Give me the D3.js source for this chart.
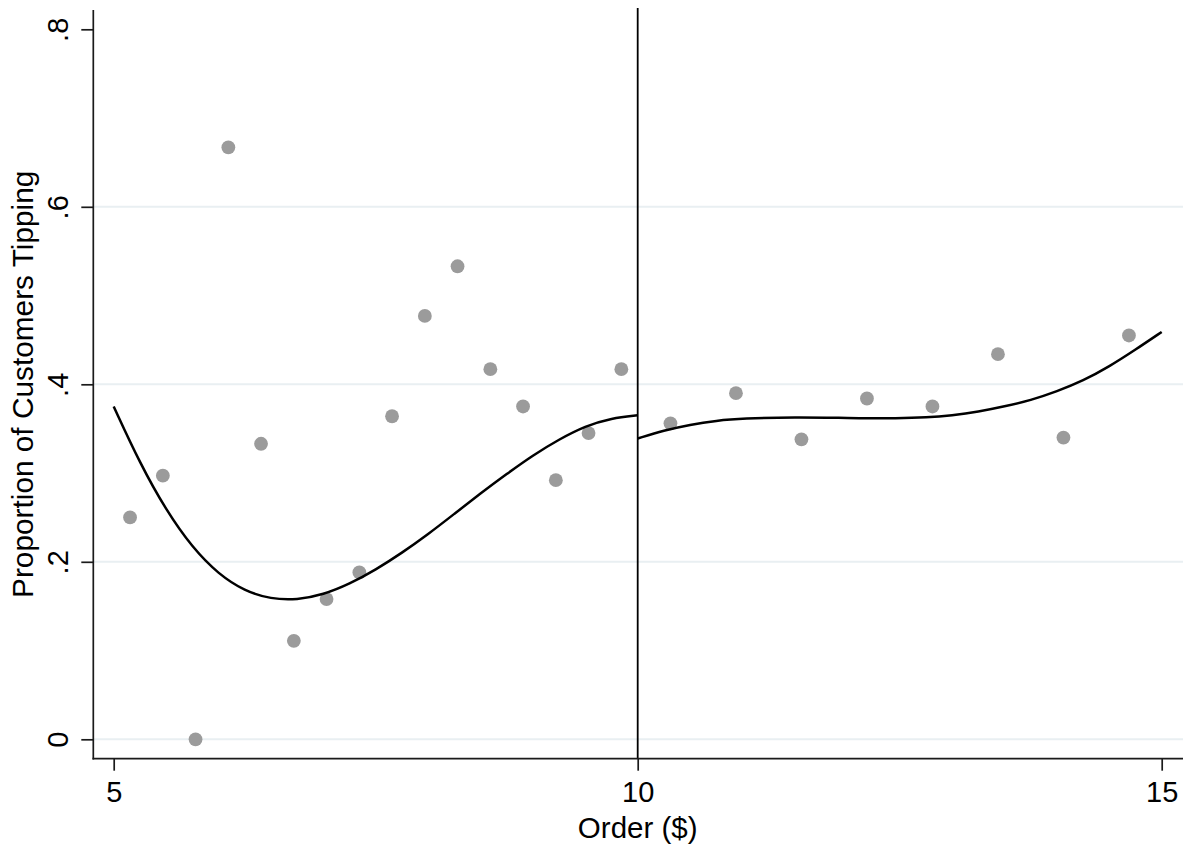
<!DOCTYPE html>
<html>
<head>
<meta charset="utf-8">
<script src="https://cdn.jsdelivr.net/npm/d3@7/dist/d3.min.js"></script>
<style>
  html, body { margin: 0; padding: 0; background: #ffffff; }
  svg { display: block; }
  text { font-family: "Liberation Sans", Arial, Helvetica, sans-serif; fill: #000; }
</style>
</head>
<body>
<svg id="chart" width="1183" height="848"></svg>
<script>
// Binned order sizes (bin midpoints, $) and share of customers who tipped
const binOrderLeft = [5.156, 5.469, 5.781, 6.094, 6.406, 6.719, 7.031, 7.344,
                      7.656, 7.969, 8.281, 8.594, 8.906, 9.219, 9.531, 9.844];
const binShareLeft = [0.250, 0.297, 0.000, 0.667, 0.333, 0.111, 0.158, 0.188,
                      0.364, 0.477, 0.533, 0.417, 0.375, 0.292, 0.345, 0.417];
const binOrderRight = [10.3125, 10.9375, 11.5625, 12.1875, 12.8125, 13.4375, 14.0625, 14.6875];
const binShareRight = [0.356, 0.390, 0.338, 0.384, 0.375, 0.434, 0.340, 0.455];

// Fitted curve on each side of the $10 cutoff
const fitOrderLeft = [5.0, 5.25, 5.5, 5.75, 6.0, 6.25, 6.5, 6.75, 7.0, 7.25, 7.5,
                      7.75, 8.0, 8.25, 8.5, 8.75, 9.0, 9.25, 9.5, 9.75, 10.0];
const fitShareLeft = [0.375, 0.311, 0.258, 0.216, 0.186, 0.167, 0.158, 0.157, 0.163, 0.175, 0.191,
                      0.210, 0.231, 0.254, 0.277, 0.299, 0.320, 0.338, 0.353, 0.362, 0.365];
const fitOrderRight = [10.0, 10.25, 10.5, 10.75, 11.0, 11.5, 12.0, 12.5, 12.75, 13.0,
                       13.25, 13.5, 13.75, 14.0, 14.25, 14.5, 14.75, 15.0];
const fitShareRight = [0.339, 0.348, 0.3545, 0.359, 0.3615, 0.363, 0.362, 0.3615, 0.3625, 0.365,
                       0.369, 0.375, 0.382, 0.392, 0.404, 0.420, 0.439, 0.459];

const cutoff = 10;
const xTicks = [5, 10, 15];
const yTicks = [0, 0.2, 0.4, 0.6, 0.8];
const yTickLabels = ["0", ".2", ".4", ".6", ".8"];
const gridValues = [0, 0.2, 0.4, 0.6];
const xTitle = "Order ($)";
const yTitle = "Proportion of Customers Tipping";

const svg = d3.select("#chart");
const axisX = 93.3, axisY = 758.7, axisTop = 10, axisRight = 1183;
const FONT = "'Liberation Sans', Arial, Helvetica, sans-serif";

const x = d3.scaleLinear().domain([5, 15]).range([113.7, 1161.7]);
const y = d3.scaleLinear().domain([0, 0.8]).range([739.3, 29.3]);

// horizontal grid
svg.append("g").selectAll("line").data(gridValues).join("line")
  .attr("x1", axisX).attr("x2", axisRight)
  .attr("y1", d => y(d)).attr("y2", d => y(d))
  .attr("stroke", "#e9eff2").attr("stroke-width", 2);

// binned scatter
const points = binOrderLeft.map((d, i) => [d, binShareLeft[i]])
  .concat(binOrderRight.map((d, i) => [d, binShareRight[i]]));
svg.append("g").selectAll("circle").data(points).join("circle")
  .attr("cx", d => x(d[0])).attr("cy", d => y(d[1]))
  .attr("r", 6.9).attr("fill", "#9b9b9b");

// fitted curves
const line = d3.line().x(d => x(d[0])).y(d => y(d[1])).curve(d3.curveBasis);
[[fitOrderLeft, fitShareLeft], [fitOrderRight, fitShareRight]].forEach(([xs, ys]) => {
  svg.append("path")
    .datum(xs.map((d, i) => [d, ys[i]]))
    .attr("d", line)
    .attr("fill", "none").attr("stroke", "#000").attr("stroke-width", 2.5)
    .attr("stroke-linejoin", "round");
});

// cutoff line
svg.append("line")
  .attr("x1", x(cutoff)).attr("x2", x(cutoff))
  .attr("y1", 8).attr("y2", axisY)
  .attr("stroke", "#000").attr("stroke-width", 1.8);

// axes
const xAxis = d3.axisBottom(x).tickValues(xTicks).tickSize(12).tickSizeOuter(0).tickFormat(d3.format("d"));
const gx = svg.append("g").attr("transform", `translate(0,${axisY})`).call(xAxis);
gx.select(".domain").remove();
gx.selectAll(".tick line").attr("stroke", "#1a1a1a").attr("stroke-width", 1.7);
gx.selectAll(".tick text").attr("y", 43.3).attr("dy", 0)
  .attr("font-size", 29).attr("fill", "#000").attr("font-family", FONT);

const yAxis = d3.axisLeft(y).tickValues(yTicks).tickSize(12).tickSizeOuter(0)
  .tickFormat((d, i) => yTickLabels[i]);
const gy = svg.append("g").attr("transform", `translate(${axisX},0)`).call(yAxis);
gy.select(".domain").remove();
gy.selectAll(".tick line").attr("stroke", "#1a1a1a").attr("stroke-width", 1.7);
gy.selectAll(".tick text")
  .attr("transform", "rotate(-90)")
  .attr("x", 0).attr("y", -25.3).attr("dy", 0)
  .attr("text-anchor", "middle")
  .attr("font-size", 29).attr("fill", "#000").attr("font-family", FONT);

// axis lines
svg.append("line").attr("x1", axisX).attr("x2", axisX).attr("y1", axisTop).attr("y2", axisY + 0.85)
  .attr("stroke", "#1a1a1a").attr("stroke-width", 1.7);
svg.append("line").attr("x1", axisX - 0.85).attr("x2", axisRight).attr("y1", axisY).attr("y2", axisY)
  .attr("stroke", "#1a1a1a").attr("stroke-width", 1.7);

// titles
svg.append("text")
  .attr("x", (x.range()[0] + x.range()[1]) / 2).attr("y", 838)
  .attr("text-anchor", "middle").attr("font-size", 29.5)
  .text(xTitle);
svg.append("text")
  .attr("transform", `translate(33,${(y.range()[0] + y.range()[1]) / 2}) rotate(-90)`)
  .attr("text-anchor", "middle").attr("font-size", 29.8)
  .text(yTitle);
</script>
</body>
</html>
